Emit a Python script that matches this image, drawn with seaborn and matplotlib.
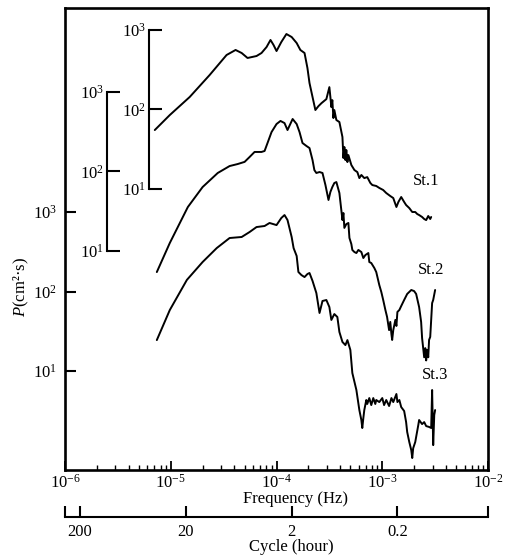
import numpy as np
import pandas as pd
import matplotlib
matplotlib.use("Agg")
import matplotlib.pyplot as plt
import seaborn as sns
from matplotlib.ticker import FixedLocator, NullLocator, NullFormatter

# Power spectra of three stations (frequency in Hz, P in cm^2*s)
freq_st1 = [7.06e-6, 9.79e-6, 1.51e-5, 2.33e-5, 3.37e-5, 4.10e-5, 4.68e-5, 5.32e-5,
            6.47e-5, 7.21e-5, 8.05e-5, 8.77e-5, 9.37e-5, 1.00e-4, 1.11e-4, 1.24e-4,
            1.39e-4, 1.55e-4, 1.68e-4, 1.84e-4, 1.96e-4, 2.05e-4, 2.19e-4, 2.33e-4,
            2.49e-4, 2.66e-4, 2.96e-4, 3.16e-4, 3.23e-4, 3.30e-4, 3.37e-4, 3.45e-4,
            3.52e-4, 3.68e-4, 3.93e-4, 4.20e-4, 4.29e-4, 4.38e-4, 4.48e-4, 4.57e-4,
            4.68e-4, 4.78e-4, 5.10e-4, 5.45e-4, 5.81e-4, 6.07e-4, 6.34e-4, 6.76e-4,
            7.21e-4, 7.71e-4, 8.05e-4, 8.77e-4, 9.37e-4, 1.02e-3, 1.09e-3, 1.19e-3,
            1.27e-3, 1.36e-3, 1.42e-3, 1.51e-3, 1.61e-3, 1.68e-3, 1.80e-3, 1.92e-3,
            2.05e-3, 2.14e-3, 2.23e-3, 2.38e-3, 2.49e-3, 2.60e-3, 2.72e-3, 2.84e-3,
            2.90e-3]
p_st1 = [55.1, 85.1, 143.5, 271, 484, 560, 513, 444,
         470, 513, 610, 748, 647, 543, 705, 889,
         815, 685, 560, 513, 332, 215, 143.5, 98.4,
         110, 120, 135, 191, 143.5, 107, 131, 78,
         98.4, 73.6, 69.5, 45.0, 24.5, 33.7, 23.1, 30.9,
         21.8, 26.7, 20.0, 17.3, 16.3, 13.7, 15.0, 13.7,
         14.1, 11.9, 11.2, 10.9, 10.3, 9.70, 8.89, 8.15,
         7.69, 5.93, 6.86, 7.92, 6.86, 6.28, 5.75, 5.13,
         5.13, 4.84, 4.70, 4.44, 4.19, 4.06, 4.57, 4.19,
         4.44]

freq_st2 = [7.38e-6, 9.79e-6, 1.45e-5, 2.00e-5, 2.78e-5, 3.60e-5, 4.29e-5, 4.99e-5,
            5.56e-5, 6.20e-5, 7.21e-5, 7.71e-5, 8.22e-5, 8.97e-5, 1.00e-4, 1.09e-4,
            1.19e-4, 1.27e-4, 1.42e-4, 1.55e-4, 1.65e-4, 1.76e-4, 1.92e-4, 2.05e-4,
            2.19e-4, 2.28e-4, 2.38e-4, 2.55e-4, 2.72e-4, 2.90e-4, 3.10e-4, 3.23e-4,
            3.37e-4, 3.52e-4, 3.68e-4, 3.93e-4, 4.20e-4, 4.29e-4, 4.38e-4, 4.57e-4,
            4.78e-4, 4.89e-4, 5.10e-4, 5.21e-4, 5.45e-4, 5.69e-4, 5.94e-4, 6.34e-4,
            6.62e-4, 6.92e-4, 7.38e-4, 7.54e-4, 7.87e-4, 8.41e-4, 8.77e-4, 9.37e-4,
            9.79e-4, 1.02e-3, 1.07e-3, 1.11e-3, 1.16e-3, 1.19e-3, 1.22e-3, 1.24e-3,
            1.27e-3, 1.33e-3, 1.36e-3, 1.39e-3, 1.45e-3, 1.51e-3, 1.61e-3, 1.72e-3,
            1.88e-3, 2.00e-3, 2.09e-3, 2.23e-3, 2.33e-3, 2.38e-3, 2.49e-3, 2.55e-3,
            2.60e-3, 2.66e-3, 2.72e-3, 2.77e-3, 2.84e-3, 2.96e-3, 3.03e-3, 3.16e-3]
p_st2 = [5.43, 12.6, 35.7, 63.7, 95.7, 117, 124, 132,
         152, 176, 176, 181, 228, 313, 395, 432,
         406, 332, 457, 395, 313, 228, 209, 197,
         139, 104, 95.7, 98.4, 95.7, 67.6, 43.8, 55.2,
         63.7, 71.6, 73.6, 53.6, 24.5, 30.0, 19.5, 21.8,
         22.5, 14.6, 12.2, 10.3, 9.70, 9.42, 10.3, 9.70,
         8.15, 8.89, 9.42, 7.26, 7.05, 6.11, 5.43, 3.73,
         3.05, 2.42, 1.81, 1.48, 1.01, 1.28, 0.90, 0.76,
         1.01, 1.36, 1.14, 1.71, 1.81, 2.03, 2.42, 2.88,
         3.23, 3.13, 2.88, 1.97, 1.28, 0.80, 0.46, 0.60,
         0.42, 0.57, 0.46, 0.76, 0.83, 2.21, 2.42, 3.23]

freq_st3 = [7.38e-6, 9.79e-6, 1.42e-5, 2.00e-5, 2.72e-5, 3.60e-5, 4.68e-5, 5.56e-5,
            6.47e-5, 7.71e-5, 8.59e-5, 1.00e-4, 1.11e-4, 1.19e-4, 1.27e-4, 1.39e-4,
            1.45e-4, 1.55e-4, 1.61e-4, 1.72e-4, 1.84e-4, 1.96e-4, 2.05e-4, 2.19e-4,
            2.38e-4, 2.55e-4, 2.72e-4, 2.96e-4, 3.16e-4, 3.30e-4, 3.52e-4, 3.76e-4,
            3.93e-4, 4.20e-4, 4.48e-4, 4.68e-4, 4.99e-4, 5.21e-4, 5.69e-4, 6.07e-4,
            6.34e-4, 6.47e-4, 6.62e-4, 6.76e-4, 7.06e-4, 7.21e-4, 7.54e-4, 7.87e-4,
            8.22e-4, 8.59e-4, 8.77e-4, 9.37e-4, 1.00e-3, 1.04e-3, 1.09e-3, 1.16e-3,
            1.22e-3, 1.27e-3, 1.36e-3, 1.39e-3, 1.45e-3, 1.51e-3, 1.61e-3, 1.68e-3,
            1.72e-3, 1.80e-3, 1.88e-3, 1.92e-3, 1.96e-3, 2.05e-3, 2.09e-3, 2.19e-3,
            2.23e-3, 2.38e-3, 2.49e-3, 2.60e-3, 2.77e-3, 2.90e-3, 2.96e-3, 3.03e-3,
            3.10e-3, 3.16e-3]
p_st3 = [24.5, 58.5, 140, 235, 352, 471, 485, 560,
         647, 667, 728, 685, 841, 916, 793, 485,
         352, 280, 176, 161, 152, 166, 171, 136,
         95.7, 53.7, 76.0, 78.2, 63.8, 43.9, 52.1, 47.8,
         31.0, 23.2, 21.2, 24.5, 18.4, 9.44, 5.77, 3.23,
         2.42, 1.92, 2.56, 3.23, 4.32, 3.85, 4.57, 3.73,
         4.57, 3.85, 4.32, 4.07, 4.57, 3.73, 4.32, 3.63,
         4.57, 4.07, 5.14, 4.07, 4.32, 3.52, 3.14, 2.28,
         1.71, 1.28, 1.01, 0.805, 1.07, 1.28, 1.48, 2.09,
         2.42, 2.15, 2.28, 2.03, 1.98, 1.92, 5.77, 1.17,
         2.80, 3.23]

station_names = ["St.1", "St.2", "St.3"]
label_freq = [2.60e-3, 2.90e-3, 3.16e-3]
label_p = [12.6, 5.75, 8.9]

p_ticks = [1e1, 1e2, 1e3]
cycle_ticks = [200, 20, 2, 0.2]
cycle_labels = ["200", "20", "2", "0.2"]

# each upper spectrum has its own P scale, lifted by these many decades
lift_st1 = 2.29
lift_st2 = 1.51
y_range = (0.569, 3.68e5)

sns.set_theme(style="ticks")
plt.rcParams.update({
    "font.family": ["Liberation Serif", "DejaVu Serif"],
    "mathtext.fontset": "custom",
    "mathtext.rm": "Liberation Serif",
    "mathtext.it": "Liberation Serif:italic",
    "mathtext.bf": "Liberation Serif:bold",
    "axes.edgecolor": "black",
    "xtick.color": "black",
    "ytick.color": "black",
    "text.color": "black",
    "axes.labelcolor": "black",
})

fig = plt.figure(figsize=(5.06, 5.57), dpi=100)
ax = fig.add_axes([0.1285, 0.1562, 0.836, 0.8294])
ax.set_xscale("log")
ax.set_yscale("log")
ax.set_xlim(1e-6, 1e-2)
ax.set_ylim(*y_range)
for s in ax.spines.values():
    s.set_linewidth(1.9)
    s.set_visible(True)

ax.yaxis.set_major_locator(FixedLocator(p_ticks))
ax.yaxis.set_minor_locator(NullLocator())
ax.tick_params(axis="y", which="major", direction="in", length=8, width=1.5,
               labelsize=12, pad=6, left=True, right=False)
ax.tick_params(axis="x", which="major", direction="in", length=6.5, width=1.3,
               labelsize=12, pad=3, top=False)
ax.tick_params(axis="x", which="minor", direction="in", length=3.8, width=1.0, top=False)


def inner_scale(lift, pos):
    tw = ax.twinx()
    tw.set_yscale("log")
    tw.set_ylim(y_range[0] / 10 ** lift, y_range[1] / 10 ** lift)
    for side in ("top", "bottom", "right"):
        tw.spines[side].set_visible(False)
    tw.spines["left"].set_visible(True)
    tw.spines["left"].set_position(("axes", pos))
    tw.spines["left"].set_bounds(p_ticks[0], p_ticks[-1])
    tw.spines["left"].set_linewidth(1.5)
    tw.yaxis.set_ticks_position("left")
    tw.yaxis.set_label_position("left")
    tw.yaxis.set_major_locator(FixedLocator(p_ticks))
    tw.yaxis.set_minor_locator(NullLocator())
    tw.tick_params(axis="y", direction="in", length=9, width=1.5, labelsize=12, pad=2)
    return tw


ax_st2 = inner_scale(lift_st2, 0.0993)
ax_st1 = inner_scale(lift_st1, 0.1986)

curves = [(ax_st1, freq_st1, p_st1), (ax_st2, freq_st2, p_st2), (ax, freq_st3, p_st3)]
for target, f, p in curves:
    df = pd.DataFrame({"freq": f, "P": p})
    sns.lineplot(data=df, x="freq", y="P", ax=target, color="black", linewidth=1.4,
                 estimator=None, sort=False)
    target.set_xlabel("")
    target.set_ylabel("")

for target, name, fx, py in zip([ax_st1, ax_st2, ax], station_names, label_freq, label_p):
    target.text(fx, py, name, ha="center", va="center", fontsize=12)

ax.set_xlim(1e-6, 1e-2)
ax.set_ylim(*y_range)

ax.set_xlabel("Frequency (Hz)", fontsize=12)
ax.xaxis.set_label_coords(0.546, -0.045)
ax.set_ylabel(r"$P$(cm²·s)", fontsize=12)
ax.yaxis.set_label_coords(-0.08, 0.396)


def hz_to_hours(f):
    f = np.asarray(f, dtype=float)
    with np.errstate(divide="ignore"):
        return 1.0 / (3600.0 * f)


sec = ax.secondary_xaxis(-0.102, functions=(hz_to_hours, hz_to_hours))
sec.xaxis.set_major_locator(FixedLocator(cycle_ticks))
sec.set_xticklabels(cycle_labels)
sec.xaxis.set_minor_locator(FixedLocator([1 / (3600 * 1e-6), 1 / (3600 * 1e-2)]))
sec.xaxis.set_minor_formatter(NullFormatter())
sec.tick_params(axis="x", which="both", direction="in", length=8, width=1.5,
                labelsize=12, pad=5)
sec.spines["bottom"].set_linewidth(1.5)
ax.text(0.534, -0.167, "Cycle (hour)", transform=ax.transAxes, ha="center",
        va="center", fontsize=12)

fig.savefig("out.png", dpi=100)
